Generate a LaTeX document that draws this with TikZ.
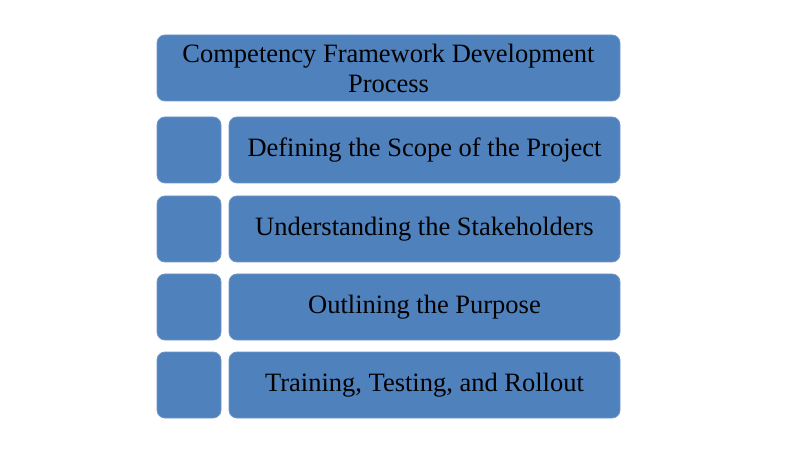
\documentclass[tikz,border=0pt]{standalone}
\usepackage{fontspec}
\setmainfont{Liberation Serif}
\usepackage{tikz}
\usetikzlibrary{positioning}

\definecolor{boxblue}{HTML}{4F81BD}
\definecolor{boxedge}{HTML}{7097C9}

\tikzset{
    panel/.style={draw=boxedge, line width=0.8pt, fill=boxblue, rounded corners=8pt,
        minimum height=66pt, inner sep=0pt, font=\fontsize{26.5}{30}\selectfont, align=center},
    marker/.style={panel, minimum width=64pt},
    stage/.style={panel, minimum width=391pt},
}

\begin{document}
\begin{tikzpicture}[x=1pt,y=1pt]
\useasboundingbox (0,0) rectangle (800,450);

% Title
\node[panel, minimum width=463pt] (title) at (388.5,382) {Competency Framework Development\\Process};

% Stages
\foreach \y/\name/\text in {300/scope/Defining the Scope of the Project,
                            221/stake/Understanding the Stakeholders,
                            143/purpose/Outlining the Purpose,
                            65/rollout/{Training, Testing, and Rollout}} {
    \node[marker] (\name-mark) at (189,\y) {};
    \node[stage] (\name) at (424.5,\y) {\text};
}

\end{tikzpicture}
\end{document}
